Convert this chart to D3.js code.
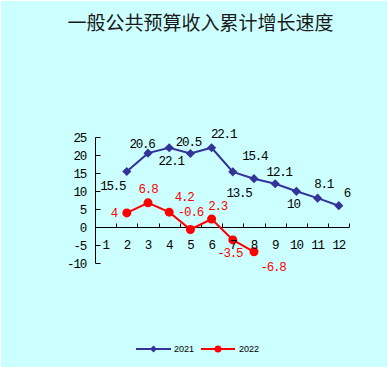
<!DOCTYPE html>
<html><head><meta charset="utf-8">
<script src="https://cdn.jsdelivr.net/npm/d3@7/dist/d3.min.js"></script>
<style>body{margin:0;background:#fff;}svg{display:block;}</style>
</head><body>
<svg id="c" width="389" height="369"></svg>
<script>
const title = "一般公共预算收入累计增长速度";
const months = [1,2,3,4,5,6,7,8,9,10,11,12];
const months2021 = [2,3,4,5,6,7,8,9,10,11,12];
const values2021 = [15.5,20.6,22.1,20.5,22.1,15.4,13.5,12.1,10,8.1,6];
const months2022 = [2,3,4,5,6,7,8];
const values2022 = [4,6.8,4.2,-0.6,2.3,-3.5,-6.8];
const yTicks = [-10,-5,0,5,10,15,20,25];
const seriesNames = ["2021","2022"];
// label offsets relative to each point (dx, dy)
const labelOff2021 = [[-14,14],[-6,-10],[2,13],[-2,-11.5],[12,-14],[22,-16],[-15,14],[4,-12],[-3,12],[6,-15],[8,-13]];
const labelOff2022 = [[-13,0],[0,-14.5],[15,-16],[0,-18],[6,-13],[-3,13],[19,15]];

const svg = d3.select("#c");
svg.append("rect").attr("x",1).attr("y",1).attr("width",386).attr("height",366).attr("fill","#CCFFFF");

svg.append("text").attr("x",200.5).attr("y",29.5).attr("text-anchor","middle")
  .attr("font-family","'Noto Sans CJK SC'").attr("font-size",19).attr("font-weight",400).attr("fill","#1a1a1a").text(title);

const x = d3.scaleBand().domain(months).range([95,349.4]).padding(0);
const y = d3.scaleLinear().domain([-10,25]).range([263.3,137.3]);
const cx = m => x(m) + x.bandwidth()/2;
const numFont = "'Liberation Mono'";
const fs = 12.5, ls = -1.2;

// y axis
const g = svg.append("g");
g.append("line").attr("x1",95.5).attr("x2",95.5).attr("y1",y(25)).attr("y2",y(-10)).attr("stroke","#000");
yTicks.forEach(t=>{
  g.append("line").attr("x1",95.5).attr("x2",100.5).attr("y1",Math.round(y(t))+0.5).attr("y2",Math.round(y(t))+0.5).attr("stroke","#000");
  g.append("text").attr("x",86).attr("y",y(t)).attr("dy","0.35em").attr("text-anchor","end")
   .attr("font-family",numFont).attr("font-size",fs).attr("letter-spacing",ls).attr("fill","#000").text(t);
});
// x axis at zero
const y0 = Math.round(y(0))+0.5;
g.append("line").attr("x1",95).attr("x2",349.4).attr("y1",y0).attr("y2",y0).attr("stroke","#000");
months.forEach(m=>{
  const xx = Math.round(x(m)+x.bandwidth())+0.5;
  g.append("line").attr("x1",xx).attr("x2",xx).attr("y1",y0).attr("y2",y0-4).attr("stroke","#000");
});

// series
const line = d3.line();
const pts21 = months2021.map((m,i)=>[cx(m), y(values2021[i])]);
const pts22 = months2022.map((m,i)=>[cx(m), y(values2022[i])]);
svg.append("path").attr("d",line(pts21)).attr("fill","none").attr("stroke","#333399").attr("stroke-width",2);
svg.append("path").attr("d",line(pts22)).attr("fill","none").attr("stroke","#FF0000").attr("stroke-width",2);
const diamond = d3.symbol().type(d3.symbolSquare).size(42);
pts21.forEach(p=>svg.append("path").attr("d",diamond()).attr("fill","#333399")
  .attr("transform",`translate(${p[0]},${p[1]}) rotate(45)`));
pts22.forEach(p=>svg.append("circle").attr("cx",p[0]).attr("cy",p[1]).attr("r",4.5).attr("fill","#FF0000"));

// x tick labels (on top)
months.forEach(m=>{
  svg.append("text").attr("x",cx(m)).attr("y",245).attr("dy","0.35em").attr("text-anchor","middle")
   .attr("font-family",numFont).attr("font-size",fs).attr("letter-spacing",ls).attr("fill","#000").text(m);
});

// data labels
pts21.forEach((p,i)=>{
  svg.append("text").attr("x",p[0]+labelOff2021[i][0]).attr("y",p[1]+labelOff2021[i][1]).attr("dy","0.35em")
   .attr("text-anchor","middle").attr("font-family",numFont).attr("font-size",fs).attr("letter-spacing",ls)
   .attr("fill","#000").text(values2021[i]);
});
pts22.forEach((p,i)=>{
  svg.append("text").attr("x",p[0]+labelOff2022[i][0]).attr("y",p[1]+labelOff2022[i][1]).attr("dy","0.35em")
   .attr("text-anchor","middle").attr("font-family",numFont).attr("font-size",fs).attr("letter-spacing",ls)
   .attr("fill","#FF0000").text(values2022[i]);
});

// legend
const ly = 349;
const leg = [{x1:136,x2:171,c:"#333399",t:seriesNames[0],tx:174,diamond:true},{x1:201,x2:235,c:"#FF0000",t:seriesNames[1],tx:239,diamond:false}];
leg.forEach(l=>{
  svg.append("line").attr("x1",l.x1).attr("x2",l.x2).attr("y1",ly).attr("y2",ly).attr("stroke",l.c).attr("stroke-width",2);
  const mx=(l.x1+l.x2)/2;
  if(l.diamond) svg.append("path").attr("d",d3.symbol().type(d3.symbolSquare).size(24)()).attr("fill",l.c)
     .attr("transform",`translate(${mx},${ly}) rotate(45)`);
  else svg.append("circle").attr("cx",mx).attr("cy",ly).attr("r",3.5).attr("fill",l.c);
  svg.append("text").attr("x",l.tx).attr("y",ly).attr("dy","0.35em").attr("font-family","'Liberation Sans'")
   .attr("font-size",9).attr("fill","#000").text(l.t);
});
</script>
</body></html>
